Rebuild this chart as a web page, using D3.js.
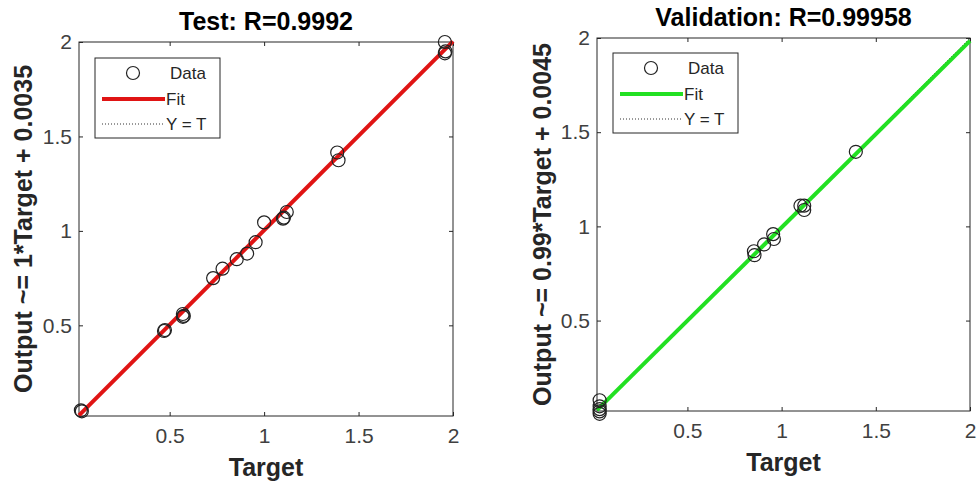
<!DOCTYPE html>
<html>
<head>
<meta charset="utf-8">
<script src="https://cdn.jsdelivr.net/npm/d3@7"></script>
<style>
  body { margin: 0; background: #fff; }
  svg { font-family: "Liberation Sans", Arial, sans-serif; }
</style>
</head>
<body>
<div id="chart"></div>
<script>
// Axis limits and ticks (same for both panels)
const axisDomain = [0.02, 2];
const tickValues = [0.5, 1, 1.5, 2];

// Test set: targets and network outputs
const testTarget = [0.03, 0.035, 0.47, 0.475, 0.57, 0.575, 0.57, 0.73, 0.78, 0.855, 0.91, 0.955, 1.0, 1.10, 1.105, 1.12, 1.387, 1.394, 1.957, 1.957, 1.96];
const testOutput = [0.05, 0.045, 0.47, 0.475, 0.56, 0.55, 0.545, 0.75, 0.80, 0.85, 0.88, 0.94, 1.045, 1.065, 1.07, 1.10, 1.415, 1.374, 2.0, 1.94, 1.95];

// Validation set
const valTarget = [0.034, 0.034, 0.034, 0.034, 0.034, 0.853, 0.856, 0.907, 0.955, 0.959, 1.10, 1.12, 1.12, 1.394];
const valOutput = [0.077, 0.045, 0.03, 0.018, 0.005, 0.868, 0.847, 0.904, 0.959, 0.933, 1.11, 1.11, 1.087, 1.396];

// Fit coefficients [slope, intercept]
const testFit = [1, 0.0035];
const valFit = [0.99, 0.0045];

const width = 977, height = 482;
const svg = d3.select("#chart").append("svg")
  .attr("width", width)
  .attr("height", height);

const panels = [
  { left: 79, top: 42, size: 374, title: "Test: R=0.9992",
    ylabel: "Output ~= 1*Target + 0.0035", target: testTarget, output: testOutput,
    fit: testFit, color: "#e01414", labelX: 23, legend: [95, 58] },
  { left: 597, top: 38, size: 373, title: "Validation: R=0.99958",
    ylabel: "Output ~= 0.99*Target + 0.0045", target: valTarget, output: valOutput,
    fit: valFit, color: "#22e022", labelX: 542, legend: [613, 53] }
];

panels.forEach(function(p) {
  const x = d3.scaleLinear().domain(axisDomain).range([p.left, p.left + p.size]);
  const y = d3.scaleLinear().domain(axisDomain).range([p.top + p.size, p.top]);
  const g = svg.append("g");

  // Box with inner ticks on all sides
  g.append("rect")
    .attr("x", p.left).attr("y", p.top)
    .attr("width", p.size).attr("height", p.size)
    .attr("fill", "none").attr("stroke", "#262626").attr("stroke-width", 1);

  const axes = [
    [d3.axisBottom(x), `translate(0,${p.top + p.size})`, true, 12],
    [d3.axisTop(x), `translate(0,${p.top})`, false, 8],
    [d3.axisLeft(y), `translate(${p.left},0)`, true, 7],
    [d3.axisRight(y), `translate(${p.left + p.size},0)`, false, 8]
  ];
  axes.forEach(function([ax, tr, labels, pad]) {
    const a = g.append("g").attr("transform", tr)
      .call(ax.tickValues(tickValues).tickSizeInner(-4).tickSizeOuter(0).tickPadding(pad)
        .tickFormat(labels ? d3.format("") : ""));
    a.select(".domain").remove();
    a.selectAll(".tick line").attr("stroke", "#262626");
    a.selectAll(".tick text").attr("fill", "#404040").attr("font-size", 21);
  });

  // Y = T reference line (dotted)
  g.append("line")
    .attr("x1", x(axisDomain[0])).attr("y1", y(axisDomain[0]))
    .attr("x2", x(axisDomain[1])).attr("y2", y(axisDomain[1]))
    .attr("stroke", "#333").attr("stroke-dasharray", "1,2");

  // Fit line
  const fitY = t => p.fit[0] * t + p.fit[1];
  g.append("line")
    .attr("x1", x(axisDomain[0])).attr("y1", y(fitY(axisDomain[0])))
    .attr("x2", x(axisDomain[1])).attr("y2", y(fitY(axisDomain[1])))
    .attr("stroke", p.color).attr("stroke-width", 4);

  // Data circles
  g.selectAll(".pt")
    .data(p.target.map((t, i) => [t, p.output[i]]))
    .enter().append("circle")
    .attr("cx", d => x(d[0]))
    .attr("cy", d => y(d[1]))
    .attr("r", 6.5)
    .attr("fill", "none")
    .attr("stroke", "#222")
    .attr("stroke-width", 1.2);

  // Title and labels
  g.append("text")
    .attr("x", p.left + p.size / 2).attr("y", p.top - 12)
    .attr("text-anchor", "middle")
    .attr("font-weight", "bold").attr("font-size", 25)
    .text(p.title);

  g.append("text")
    .attr("x", p.left + p.size / 2).attr("y", p.top + p.size + 60)
    .attr("text-anchor", "middle")
    .attr("font-weight", "bold").attr("font-size", 25).attr("fill", "#262626")
    .text("Target");

  g.append("text")
    .attr("transform", `translate(${p.labelX},${p.top + p.size / 2}) rotate(-90)`)
    .attr("text-anchor", "middle").attr("dy", "0.35em")
    .attr("font-weight", "bold").attr("font-size", 25).attr("fill", "#262626")
    .text(p.ylabel);

  // Legend
  const [lx, ly] = p.legend;
  const lg = g.append("g").attr("transform", `translate(${lx},${ly})`);
  lg.append("rect").attr("width", 125).attr("height", 80)
    .attr("fill", "#fff").attr("stroke", "#262626");
  lg.append("circle").attr("cx", 38).attr("cy", 15).attr("r", 6.5)
    .attr("fill", "none").attr("stroke", "#222").attr("stroke-width", 1.2);
  lg.append("line").attr("x1", 7).attr("x2", 70).attr("y1", 41).attr("y2", 41)
    .attr("stroke", p.color).attr("stroke-width", 4);
  lg.append("line").attr("x1", 7).attr("x2", 70).attr("y1", 66).attr("y2", 66)
    .attr("stroke", "#333").attr("stroke-dasharray", "1,2");
  const labelsL = [["Data", 15, 75], ["Fit", 41, 71], ["Y = T", 66, 71]];
  labelsL.forEach(function([t, yy, xx]) {
    lg.append("text").attr("x", xx).attr("y", yy).attr("dy", "0.35em")
      .attr("font-size", 17).attr("fill", "#262626").text(t);
  });
});
</script>
</body>
</html>
